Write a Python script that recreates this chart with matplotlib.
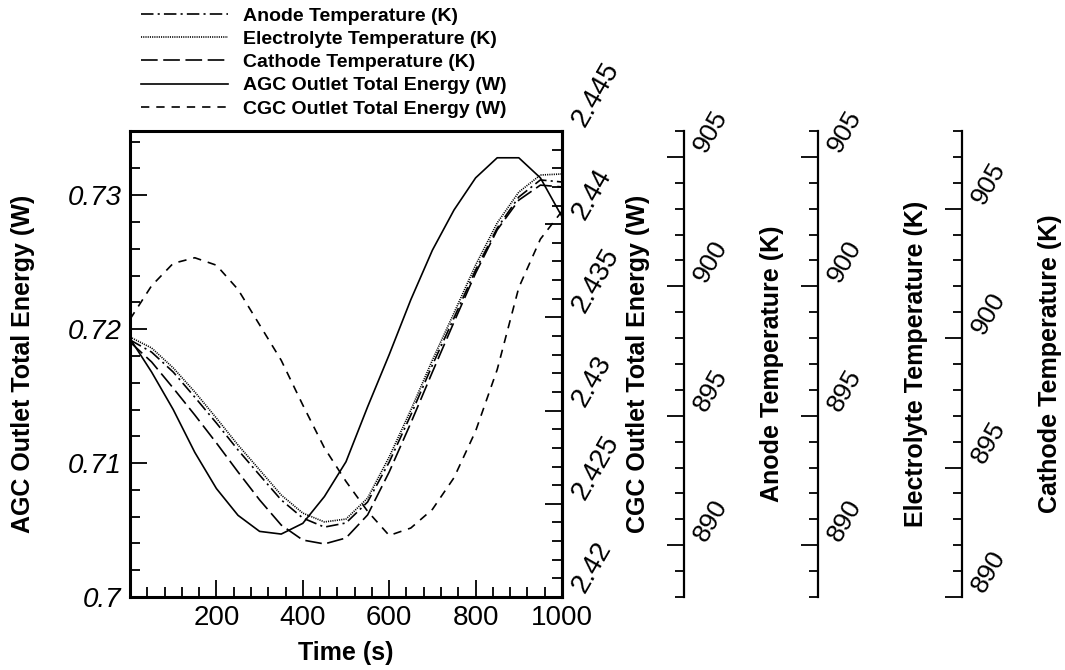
import matplotlib
matplotlib.use("Agg")
import matplotlib.pyplot as plt
from matplotlib.ticker import FixedLocator, MultipleLocator, FixedFormatter

plt.rcParams["font.family"] = ["Liberation Sans", "DejaVu Sans"]
plt.rcParams["lines.scale_dashes"] = False

# ---- data -------------------------------------------------------------
time_s = [0, 50, 100, 150, 200, 250, 300, 350, 400, 450, 500,
          550, 600, 650, 700, 750, 800, 850, 900, 950, 1000]

agc_energy = [0.7193, 0.7168, 0.7140, 0.7108, 0.7081, 0.7061, 0.7049,
              0.7047, 0.7055, 0.7075, 0.7101, 0.7142, 0.7181, 0.7222,
              0.7259, 0.7289, 0.7313, 0.7328, 0.7328, 0.7313, 0.7284]

cgc_energy = [2.4349, 2.4367, 2.4379, 2.4382, 2.4378, 2.4365, 2.4346,
              2.4327, 2.4303, 2.4280, 2.4262, 2.4246, 2.4233, 2.4237,
              2.4247, 2.4264, 2.4289, 2.4322, 2.4366, 2.4392, 2.4407]

anode_temp = [897.93, 897.46, 896.69, 895.72, 894.72, 893.68, 892.71,
              891.75, 891.05, 890.70, 890.86, 891.67, 893.21, 895.03,
              896.96, 898.78, 900.63, 902.25, 903.45, 904.11, 904.03]

electrolyte_temp = [898.04, 897.62, 896.85, 895.92, 894.91, 893.87, 892.91,
                    891.94, 891.24, 890.90, 891.01, 891.82, 893.41, 895.22,
                    897.15, 898.97, 900.82, 902.45, 903.64, 904.30, 904.34]

cathode_temp = [899.85, 899.08, 898.07, 897.03, 895.95, 894.83, 893.75,
                892.78, 892.20, 892.05, 892.28, 893.17, 894.83, 896.72,
                898.69, 900.62, 902.51, 904.18, 905.33, 905.91, 905.84]

x_ticks = [200, 400, 600, 800, 1000]
agc_ticks = [0.70, 0.71, 0.72, 0.73]
agc_tick_labels = ["0.7", "0.71", "0.72", "0.73"]
cgc_ticks = [2.42, 2.425, 2.43, 2.435, 2.44, 2.445]
cgc_tick_labels = ["2.42", "2.425", "2.43", "2.435", "2.44", "2.445"]
temp_ticks = [890, 895, 900, 905]
temp_tick_labels = ["890", "895", "900", "905"]

# ---- figure / main axes ------------------------------------------------
W, H = 1065, 670
fig = plt.figure(figsize=(W / 100, H / 100), dpi=100)
L, R, B, T = 130, 562, 597, 131
ax = fig.add_axes([L / W, 1 - B / H, (R - L) / W, (B - T) / H])

SPINE_W = 2.2
TICK_FS = 20
LABEL_FS = 18

for s in ax.spines.values():
    s.set_linewidth(SPINE_W)

ax.set_xlim(0, 1000)
ax.set_ylim(0.70, 0.7348)
ax.xaxis.set_major_locator(FixedLocator(x_ticks))
ax.xaxis.set_minor_locator(MultipleLocator(40))
ax.yaxis.set_major_locator(FixedLocator(agc_ticks))
ax.yaxis.set_major_formatter(FixedFormatter(agc_tick_labels))
ax.yaxis.set_minor_locator(MultipleLocator(0.002))
ax.tick_params(which="both", direction="in", top=False, right=False,
               width=1.3, labelsize=TICK_FS)
ax.tick_params(which="major", length=12)
ax.tick_params(which="minor", length=7)
ax.tick_params(axis="x", pad=5.5)
ax.tick_params(axis="y", pad=6)
for lbl in ax.get_yticklabels():
    lbl.set_fontstyle("italic")

ax.set_xlabel("Time (s)", fontsize=LABEL_FS, fontweight="bold")
ax.xaxis.set_label_coords(0.5, -0.12)
ax.xaxis.label.set_va("center")
ax.set_ylabel("AGC Outlet Total Energy (W)", fontsize=LABEL_FS,
              fontweight="bold")
ax.yaxis.set_label_coords(-0.2477, 0.5)
ax.yaxis.label.set_va("center")

# ---- CGC axis on the right spine ----------------------------------------
ax_cgc = ax.twinx()
for name, s in ax_cgc.spines.items():
    s.set_visible(name == "right")
    s.set_linewidth(SPINE_W)
ax_cgc.set_ylim(2.42, 2.445)
ax_cgc.yaxis.set_major_locator(FixedLocator(cgc_ticks))
ax_cgc.yaxis.set_major_formatter(FixedFormatter(cgc_tick_labels))
ax_cgc.yaxis.set_minor_locator(MultipleLocator(0.001))
ax_cgc.tick_params(which="both", direction="in", width=1.3,
                   labelsize=TICK_FS, pad=4, labelrotation=60)
ax_cgc.tick_params(which="major", length=12)
ax_cgc.tick_params(which="minor", length=7)
for lbl in ax_cgc.get_yticklabels():
    lbl.set_va("bottom")
    lbl.set_ha("left")
ax_cgc.set_ylabel("CGC Outlet Total Energy (W)", fontsize=LABEL_FS,
                  fontweight="bold")
ax_cgc.yaxis.set_label_coords((638 - L) / (R - L), 0.5)
ax_cgc.yaxis.label.set_va("center")


# ---- detached temperature axes -------------------------------------------
def temperature_axis(spine_px, label_px, ylim, label):
    a = ax.twinx()
    for name, s in a.spines.items():
        s.set_visible(name == "right")
    a.spines["right"].set_position(("axes", (spine_px - L) / (R - L)))
    a.spines["right"].set_linewidth(1.6)
    a.set_ylim(*ylim)
    a.yaxis.set_major_locator(FixedLocator(temp_ticks))
    a.yaxis.set_major_formatter(FixedFormatter(temp_tick_labels))
    a.yaxis.set_minor_locator(MultipleLocator(1))
    a.tick_params(which="both", direction="in", width=1.3,
                  labelsize=TICK_FS - 1, pad=4, labelrotation=60)
    a.tick_params(which="major", length=12)
    a.tick_params(which="minor", length=6.5)
    for lbl in a.get_yticklabels():
        lbl.set_va("bottom")
        lbl.set_ha("left")
    a.set_ylabel(label, fontsize=LABEL_FS, fontweight="bold")
    a.yaxis.set_label_coords((label_px - L) / (R - L), 0.5)
    a.yaxis.label.set_va("center")
    return a


ax_anode = temperature_axis(684, 772, (888, 906), "Anode Temperature (K)")
ax_elec = temperature_axis(818, 916, (888, 906), "Electrolyte Temperature (K)")
ax_cath = temperature_axis(962, 1050, (890, 908), "Cathode Temperature (K)")

# ---- curves --------------------------------------------------------------
LW = 1.2
h_anode, = ax_anode.plot(time_s, anode_temp, color="black", lw=LW,
                         linestyle=(0, (9, 3, 1.5, 3)))
h_elec, = ax_elec.plot(time_s, electrolyte_temp, color="black", lw=LW,
                       linestyle=(0, (0.8, 0.8)))
h_cath, = ax_cath.plot(time_s, cathode_temp, color="black", lw=LW,
                       linestyle=(0, (12, 4)))
h_agc, = ax.plot(time_s, agc_energy, color="black", lw=LW, linestyle="-")
h_cgc, = ax_cgc.plot(time_s, cgc_energy, color="black", lw=LW,
                     linestyle=(0, (6, 5)))

handles = [h_anode, h_elec, h_cath, h_agc, h_cgc]
labels = ["Anode Temperature (K)", "Electrolyte Temperature (K)",
          "Cathode Temperature (K)", "AGC Outlet Total Energy (W)",
          "CGC Outlet Total Energy (W)"]
fig.legend(handles, labels, loc="upper left",
           bbox_to_anchor=(141 / W, 1 - 7 / H), frameon=False,
           prop={"size": 14, "weight": "bold"}, handlelength=4.47,
           handletextpad=0.77, labelspacing=0.29, borderpad=0,
           borderaxespad=0)

fig.savefig("out.png", dpi=100)
